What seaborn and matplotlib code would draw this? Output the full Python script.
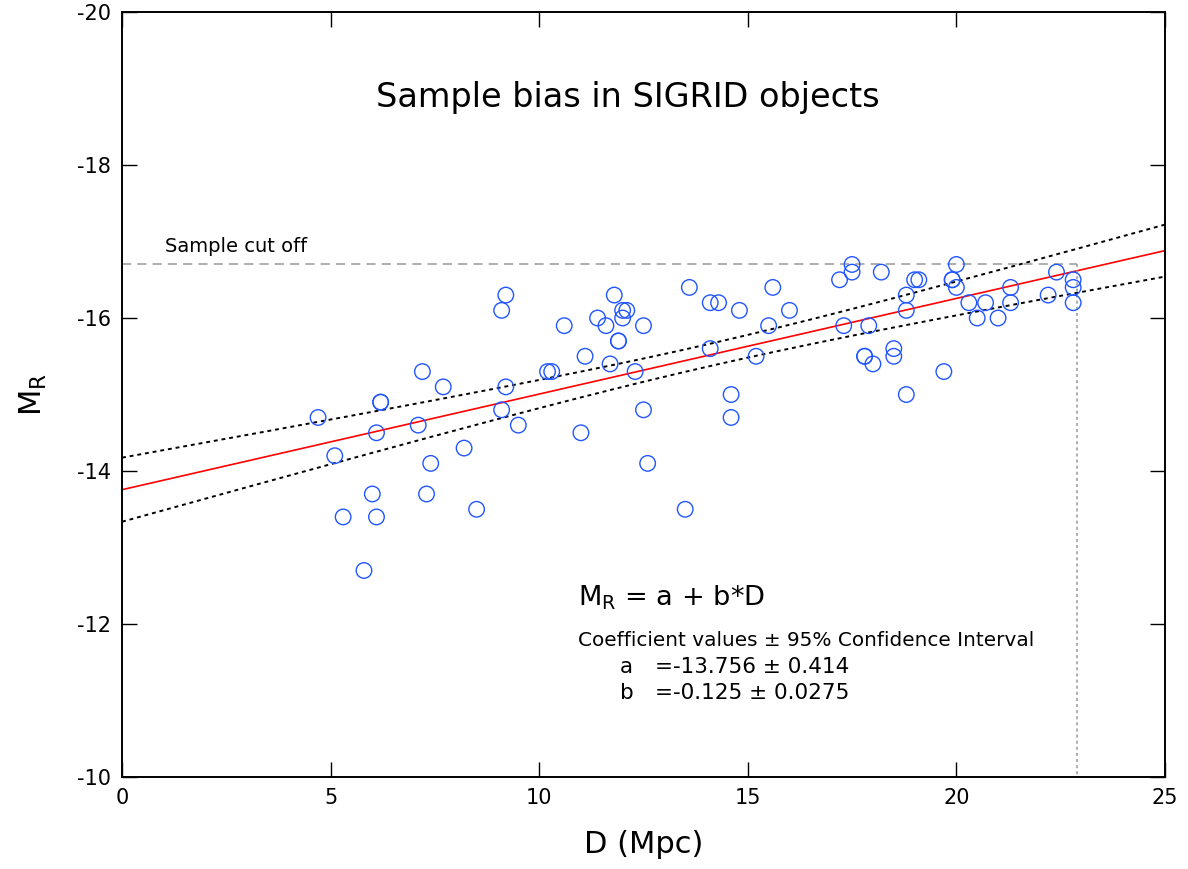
import numpy as np
import seaborn as sns
import matplotlib
matplotlib.use("Agg")
import matplotlib.pyplot as plt

# distance (Mpc) and absolute R magnitude
dist = [4.7, 5.1, 5.3, 5.8, 6.0, 6.1, 6.1, 6.2, 6.2, 7.1,
        7.2, 7.3, 7.4, 7.7, 8.2, 8.5, 9.1, 9.2, 9.2, 9.1,
        9.5, 10.2, 10.3, 10.6, 11.0, 11.1, 11.4, 11.6, 11.7, 11.8,
        11.9, 11.9, 12.0, 12.1, 12.0, 12.3, 12.5, 12.5, 12.6, 13.5,
        13.6, 14.1, 14.3, 14.1, 14.6, 14.6, 14.8, 15.2, 15.5, 15.6,
        16.0, 17.2, 17.3, 17.5, 17.5, 18.2, 18.8, 18.8, 19.0, 19.1,
        19.9, 19.9, 20.0, 20.0, 17.9, 17.8, 17.8, 18.0, 18.5, 18.5,
        19.7, 18.8, 20.3, 20.7, 20.5, 21.0, 21.3, 21.3, 22.2, 22.4,
        22.8, 22.8, 22.8]
mag_r = [-14.7, -14.2, -13.4, -12.7, -13.7, -14.5, -13.4, -14.9, -14.9, -14.6,
         -15.3, -13.7, -14.1, -15.1, -14.3, -13.5, -16.1, -16.3, -15.1, -14.8,
         -14.6, -15.3, -15.3, -15.9, -14.5, -15.5, -16.0, -15.9, -15.4, -16.3,
         -15.7, -15.7, -16.1, -16.1, -16.0, -15.3, -15.9, -14.8, -14.1, -13.5,
         -16.4, -16.2, -16.2, -15.6, -15.0, -14.7, -16.1, -15.5, -15.9, -16.4,
         -16.1, -16.5, -15.9, -16.7, -16.6, -16.6, -16.3, -16.1, -16.5, -16.5,
         -16.5, -16.5, -16.7, -16.4, -15.9, -15.5, -15.5, -15.4, -15.6, -15.5,
         -15.3, -15.0, -16.2, -16.2, -16.0, -16.0, -16.4, -16.2, -16.3, -16.6,
         -16.5, -16.4, -16.2]

# fit coefficients as quoted on the chart
coef_a = -13.756
coef_b = -0.125
cutoff_mag = -16.7
cutoff_dist = 22.9

sns.set_style("ticks")
plt.rcParams['font.family'] = ['DejaVu Sans']
plt.rcParams['axes.unicode_minus'] = False
plt.rcParams['text.color'] = 'black'
plt.rcParams['axes.labelcolor'] = 'black'

fig = plt.figure(figsize=(11.88, 8.69), dpi=100)
ax = fig.add_axes([0.1027, 0.1058, 0.8779, 0.8804])

# confidence band of the fit (from scatter about the line)
x = np.array(dist)
y = np.array(mag_r)
n = len(x)
resid = y - (coef_a + coef_b * x)
s = np.sqrt(np.sum(resid ** 2) / (n - 2))
sxx = np.sum((x - x.mean()) ** 2)
xs = np.linspace(0, 25, 200)
fit = coef_a + coef_b * xs
half = 1.99 * s * np.sqrt(1 / n + (xs - x.mean()) ** 2 / sxx)

ax.plot(xs, fit - half, color='black', lw=1.4, ls=(0, (2, 2)))
ax.plot(xs, fit + half, color='black', lw=1.4, ls=(0, (2, 2)))
ax.plot(xs, fit, color='red', lw=1.2)

# sample cut off
ax.plot([0, cutoff_dist], [cutoff_mag, cutoff_mag], color='#999999', lw=1.1, ls=(0, (6, 4)))
ax.plot([cutoff_dist, cutoff_dist], [cutoff_mag, -10], color='#999999', lw=1.1, ls=(0, (2, 2)))

sns.scatterplot(x=dist, y=mag_r, ax=ax, marker='o', s=125, facecolor='none',
                edgecolor='#2156ff', linewidth=1.0, zorder=5)

ax.set_xlim(0, 25)
ax.set_ylim(-10, -20)
ax.set_xticks([0, 5, 10, 15, 20, 25])
ax.set_yticks([-20, -18, -16, -14, -12, -10])
ax.tick_params(direction='in', length=11, width=1, labelsize=15, pad=8,
               top=True, right=True, colors='black')
for sp in ax.spines.values():
    sp.set_linewidth(1.4)
    sp.set_color('black')

ax.set_xlabel('D (Mpc)', fontsize=22, labelpad=16)
ax.set_ylabel('M$_\\mathregular{R}$', fontsize=22, labelpad=20)

ax.text(12.13, -18.88, 'Sample bias in SIGRID objects', fontsize=24.1, ha='center', va='center')
ax.text(1.03, -16.86, 'Sample cut off', fontsize=14, ha='left', va='baseline')
ax.text(10.93, -12.24, 'M$_\\mathregular{R}$ = a + b*D', fontsize=19.6, ha='left', va='baseline')
ax.text(10.93, -11.71, 'Coefficient values \u00b1 95% Confidence Interval', fontsize=14.4,
        ha='left', va='baseline')

# coefficient rows
fs = 15.5
ax.text(11.94, -11.36, 'a', fontsize=fs, ha='left', va='baseline')
ax.text(12.78, -11.36, '=-13.756 \u00b1 0.414', fontsize=fs, ha='left', va='baseline')
ax.text(11.94, -11.02, 'b', fontsize=fs, ha='left', va='baseline')
ax.text(12.78, -11.02, '=-0.125 \u00b1 0.0275', fontsize=fs, ha='left', va='baseline')

plt.savefig('out.png', dpi=100)
